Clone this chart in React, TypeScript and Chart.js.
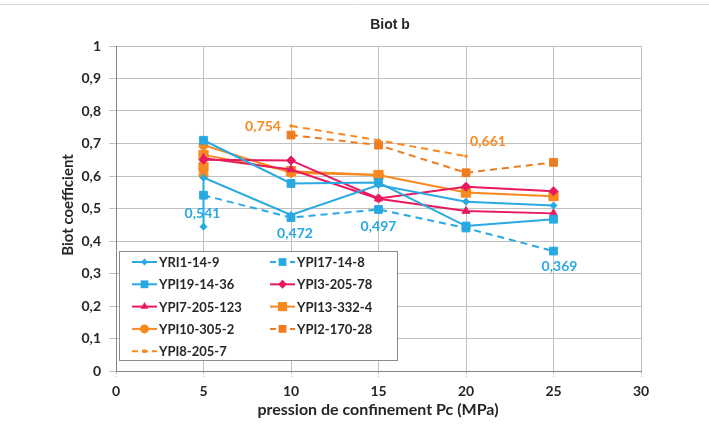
import React, { useEffect, useRef } from "react";
import { Chart, registerables } from "chart.js";

Chart.register(...registerables);

// ---- data ----
const xTicks = [0, 5, 10, 15, 20, 25, 30];
const yTicks = [0, 0.1, 0.2, 0.3, 0.4, 0.5, 0.6, 0.7, 0.8, 0.9, 1];

const yri1X = [5, 5, 10, 15, 20, 25];
const yri1Y = [0.444, 0.595, 0.48, 0.572, 0.521, 0.509];

const ypi17X = [5, 10, 15, 20, 25];
const ypi17Y = [0.541, 0.472, 0.497, 0.44, 0.369];

const ypi19X = [5, 10, 15, 20, 25];
const ypi19Y = [0.71, 0.577, 0.58, 0.446, 0.467];

const ypi3X = [5, 10, 15, 20, 25];
const ypi3Y = [0.65, 0.648, 0.531, 0.567, 0.553];

const ypi7X = [5, 10, 15, 20, 25];
const ypi7Y = [0.655, 0.62, 0.53, 0.492, 0.485];

const ypi13X = [5, 5, 10, 15, 20, 25];
const ypi13Y = [0.628, 0.665, 0.615, 0.603, 0.549, 0.538];

const ypi10X = [5, 5, 10, 15];
const ypi10Y = [0.603, 0.695, 0.61, 0.603];

const ypi2X = [10, 15, 20, 25];
const ypi2Y = [0.726, 0.695, 0.61, 0.642];

const ypi8X = [10, 15, 20];
const ypi8Y = [0.754, 0.71, 0.661];

// value labels: [series index, point index]
const valueLabels = [
  { ds: 1, i: 0, text: "0,541", dx: -1, dy: 18 },
  { ds: 1, i: 1, text: "0,472", dx: 4, dy: 16 },
  { ds: 1, i: 2, text: "0,497", dx: 0, dy: 17 },
  { ds: 1, i: 4, text: "0,369", dx: 6, dy: 15 },
  { ds: 8, i: 0, text: "0,754", dx: -28, dy: 1 },
  { ds: 8, i: 2, text: "0,661", dx: 22, dy: -15 },
];

const BLUE = "#29A9E1";
const RED = "#E8195E";
const ORANGE = "#F7891F";
const ORANGE_D = "#EE7D22";

const zip = (xs: number[], ys: number[]) => xs.map((x, i) => ({ x, y: ys[i] }));

function mk(label: string, xs: number[], ys: number[], color: string, style: string, r: number, dashed = false) {
  return {
    label,
    data: zip(xs, ys),
    showLine: true,
    borderColor: color,
    backgroundColor: color,
    borderWidth: 2,
    borderDash: dashed ? [7, 5] : [],
    pointStyle: style,
    pointRadius: r,
    pointHoverRadius: r,
    pointBorderWidth: 1,
    pointBorderColor: color,
    tension: 0,
  };
}

function drawMarker(ctx: CanvasRenderingContext2D, style: string, r: number, x: number, y: number) {
  ctx.beginPath();
  if (style === "rect") {
    const s = Math.SQRT1_2 * r;
    ctx.rect(x - s, y - s, 2 * s, 2 * s);
  } else if (style === "rectRot") {
    ctx.moveTo(x, y - r);
    ctx.lineTo(x + r, y);
    ctx.lineTo(x, y + r);
    ctx.lineTo(x - r, y);
    ctx.closePath();
  } else if (style === "triangle") {
    ctx.moveTo(x, y - r);
    ctx.lineTo(x + r * 0.866, y + r * 0.5);
    ctx.lineTo(x - r * 0.866, y + r * 0.5);
    ctx.closePath();
  } else {
    ctx.arc(x, y, r, 0, Math.PI * 2);
  }
  ctx.fill();
}

const FONT = "Lato, 'Open Sans', sans-serif";

const textPlugin = {
  id: "textPlugin",
  afterDraw(chart: any) {
    const ctx = chart.ctx;
    ctx.save();
    // top frame line
    ctx.strokeStyle = "#d9d9d9";
    ctx.lineWidth = 1;
    ctx.beginPath();
    ctx.moveTo(0, 4.5);
    ctx.lineTo(709, 4.5);
    ctx.stroke();

    ctx.fillStyle = "#262626";
    ctx.textAlign = "center";
    ctx.textBaseline = "middle";
    ctx.font = "bold 14px 'Liberation Sans', Arial, sans-serif";
    ctx.fillText("Biot b", 390, 25);

    ctx.font = "bold 16px " + FONT;
    ctx.fillText("pression de confinement Pc (MPa)", 378, 410);
    ctx.font = "bold 15px " + FONT;
    ctx.save();
    ctx.translate(68, 205);
    ctx.rotate(-Math.PI / 2);
    ctx.fillText("Biot coefficient", 0, 0);
    ctx.restore();

    // value labels
    ctx.font = "bold 14px " + FONT;
    for (const l of valueLabels) {
      const meta = chart.getDatasetMeta(l.ds);
      const p = meta.data[l.i];
      ctx.fillStyle = chart.data.datasets[l.ds].borderColor;
      ctx.fillText(l.text, p.x + l.dx, p.y + l.dy);
    }

    // legend
    const lx = 119.5, ly = 251.5, lw = 278, lh = 109;
    ctx.fillStyle = "#ffffff";
    ctx.fillRect(lx, ly, lw, lh);
    ctx.strokeStyle = "#8c8c8c";
    ctx.lineWidth = 1;
    ctx.strokeRect(lx, ly, lw, lh);
    const ds = chart.data.datasets;
    ctx.font = "bold 13px " + FONT;
    ctx.textAlign = "left";
    ds.forEach((d: any, k: number) => {
      const col = k % 2;
      const row = Math.floor(k / 2);
      const x0 = col === 0 ? 132 : 270;
      const y0 = 262 + row * 22.3;
      ctx.strokeStyle = d.borderColor;
      ctx.lineWidth = 2;
      ctx.setLineDash(d.borderDash.length ? [6, 4] : []);
      ctx.beginPath();
      ctx.moveTo(x0, y0);
      ctx.lineTo(x0 + 25, y0);
      ctx.stroke();
      ctx.setLineDash([]);
      ctx.fillStyle = d.borderColor;
      drawMarker(ctx, d.pointStyle, Math.max(d.pointRadius, 2.5), x0 + 12.5, y0);
      ctx.fillStyle = "#262626";
      ctx.fillText(d.label, x0 + 27, y0 + 1);
    });
    ctx.restore();
  },
};

export default function App() {
  const ref = useRef<HTMLCanvasElement | null>(null);
  useEffect(() => {
    const canvas = ref.current!;
    const chart = new Chart(canvas, {
      type: "scatter",
      data: {
        datasets: [
          mk("YRI1-14-9", yri1X, yri1Y, BLUE, "rectRot", 3.5),
          mk("YPI17-14-8", ypi17X, ypi17Y, BLUE, "rect", 5.5, true),
          mk("YPI19-14-36", ypi19X, ypi19Y, BLUE, "rect", 5.5),
          mk("YPI3-205-78", ypi3X, ypi3Y, RED, "rectRot", 4.5),
          mk("YPI7-205-123", ypi7X, ypi7Y, RED, "triangle", 4.5),
          mk("YPI13-332-4", ypi13X, ypi13Y, ORANGE, "rect", 6.5),
          mk("YPI10-305-2", ypi10X, ypi10Y, ORANGE, "circle", 4.5),
          mk("YPI2-170-28", ypi2X, ypi2Y, ORANGE_D, "rect", 5.5, true),
          mk("YPI8-205-7", ypi8X, ypi8Y, ORANGE, "rect", 1.5, true),
        ] as any,
      },
      options: {
        animation: false,
        responsive: false,
        maintainAspectRatio: false,
        events: [],
        layout: { padding: { left: 0, right: 68, top: 46, bottom: 0 } },
        plugins: { legend: { display: false }, title: { display: false }, tooltip: { enabled: false } },
        scales: {
          x: {
            type: "linear",
            min: 0,
            max: 30,
            afterBuildTicks: (s: any) => { s.ticks = xTicks.map((v) => ({ value: v })); },
            afterFit: (s: any) => { s.height = 62; },
            ticks: { color: "#262626", font: { family: FONT, size: 14, weight: "bold" }, padding: 6, maxRotation: 0 },
            grid: {
              color: "#c0c0c0",
              lineWidth: 1,
              borderDash: [2, 2],
              tickLength: 6,
              tickColor: "#c0c0c0",
              tickBorderDash: [2, 2],
            } as any,
            border: { display: true, color: "#868686", width: 1 },
          },
          y: {
            type: "linear",
            min: 0,
            max: 1,
            afterBuildTicks: (s: any) => { s.ticks = yTicks.map((v) => ({ value: v })); },
            afterFit: (s: any) => { s.width = 116; },
            ticks: {
              color: "#262626",
              font: { family: FONT, size: 14, weight: "bold" },
              padding: 8,
              callback: (v: any) => String(Math.round(Number(v) * 10) / 10).replace(".", ","),
            },
            grid: {
              color: "#c0c0c0",
              lineWidth: 1,
              borderDash: [2, 2],
              tickLength: 7,
              tickColor: "#c0c0c0",
              tickBorderDash: [],
            } as any,
            border: { display: true, color: "#868686", width: 1 },
          },
        },
      } as any,
      plugins: [textPlugin],
    });
    return () => chart.destroy();
  }, []);
  return (
    <div style={{ position: "fixed", left: 0, top: 0, width: 709, height: 433, background: "#fff" }}>
      <canvas ref={ref} width={709} height={433} style={{ width: 709, height: 433, display: "block" }} />
    </div>
  );
}
